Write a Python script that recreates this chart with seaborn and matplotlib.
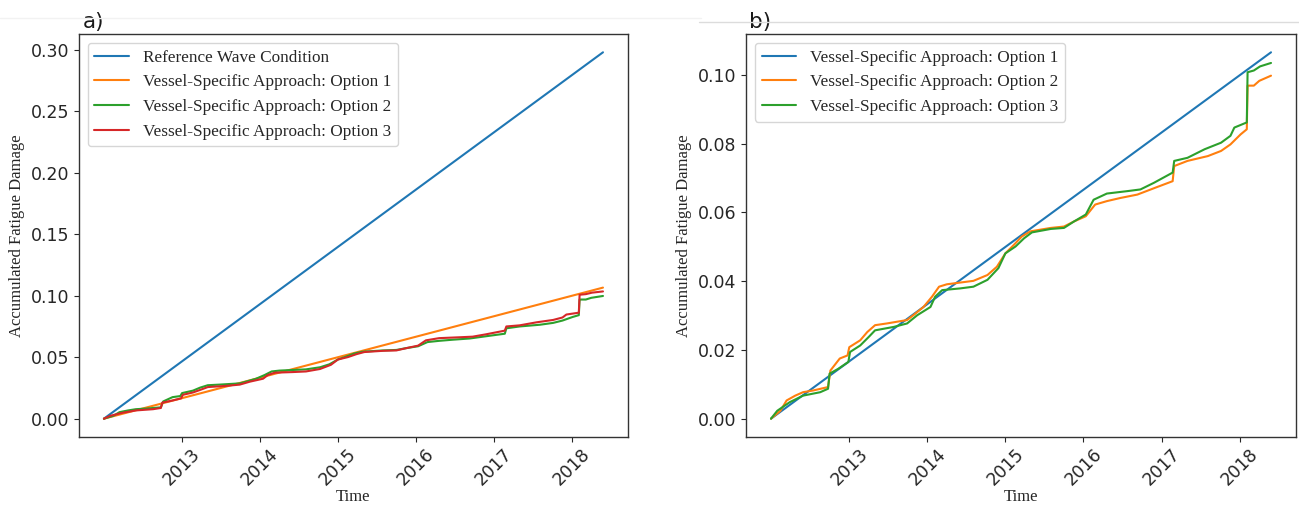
import numpy as np
import pandas as pd
import matplotlib
matplotlib.use("Agg")
import matplotlib.pyplot as plt
from matplotlib.lines import Line2D
import seaborn as sns

# ---- data -------------------------------------------------------------
start_year = 2012.00
end_year = 2018.40

reference_end = 0.298      # linear reference wave condition
option1_end = 0.1066       # linear vessel-specific option 1

option2_year = [2012.00, 2012.12, 2012.20, 2012.31, 2012.41, 2012.54, 2012.73, 2012.76,
                2012.88, 2012.98, 2013.00, 2013.14, 2013.23, 2013.33, 2013.48, 2013.74,
                2013.82, 2013.95, 2014.06, 2014.15, 2014.25, 2014.59, 2014.77, 2014.89,
                2015.00, 2015.11, 2015.21, 2015.32, 2015.58, 2015.75, 2015.88, 2016.03,
                2016.15, 2016.30, 2016.47, 2016.69, 2016.92, 2017.14, 2017.16, 2017.33,
                2017.59, 2017.76, 2017.88, 2018.01, 2018.09, 2018.10, 2018.18, 2018.25,
                2018.40]
option2_damage = [0.0, 0.0023, 0.0053, 0.0067, 0.0077, 0.0082, 0.0092, 0.0140,
                  0.0175, 0.0184, 0.0208, 0.0228, 0.0252, 0.0272, 0.0277, 0.0287,
                  0.0301, 0.0325, 0.0355, 0.0384, 0.0391, 0.0401, 0.0418, 0.0442,
                  0.0481, 0.0506, 0.0530, 0.0545, 0.0555, 0.0559, 0.0574, 0.0589,
                  0.0623, 0.0633, 0.0642, 0.0652, 0.0672, 0.0691, 0.0735, 0.0750,
                  0.0764, 0.0779, 0.0798, 0.0827, 0.0842, 0.0969, 0.0969, 0.0983,
                  0.0998]

option3_year = [2012.00, 2012.08, 2012.24, 2012.41, 2012.63, 2012.73, 2012.75, 2012.86,
                2012.99, 2013.01, 2013.14, 2013.25, 2013.33, 2013.57, 2013.74, 2013.87,
                2014.04, 2014.10, 2014.19, 2014.42, 2014.59, 2014.77, 2014.91, 2015.00,
                2015.13, 2015.24, 2015.34, 2015.58, 2015.75, 2015.88, 2016.03, 2016.13,
                2016.30, 2016.56, 2016.73, 2016.90, 2017.14, 2017.16, 2017.33, 2017.55,
                2017.76, 2017.88, 2017.93, 2018.09, 2018.10, 2018.18, 2018.26, 2018.40]
option3_damage = [0.0, 0.0023, 0.0048, 0.0067, 0.0077, 0.0087, 0.0131, 0.0145,
                  0.0165, 0.0194, 0.0213, 0.0238, 0.0257, 0.0267, 0.0277, 0.0301,
                  0.0325, 0.0355, 0.0374, 0.0379, 0.0384, 0.0404, 0.0438, 0.0481,
                  0.0501, 0.0525, 0.0542, 0.0552, 0.0555, 0.0574, 0.0594, 0.0637,
                  0.0655, 0.0662, 0.0667, 0.0686, 0.0716, 0.0750, 0.0759, 0.0784,
                  0.0803, 0.0823, 0.0847, 0.0862, 0.1008, 0.1013, 0.1025, 0.1035]

year_ticks = [2013, 2014, 2015, 2016, 2017, 2018]

labels_a = ["Reference Wave Condition",
            "Vessel-Specific Approach: Option 1",
            "Vessel-Specific Approach: Option 2",
            "Vessel-Specific Approach: Option 3"]
labels_b = ["Vessel-Specific Approach: Option 1",
            "Vessel-Specific Approach: Option 2",
            "Vessel-Specific Approach: Option 3"]

# ---- helpers ----------------------------------------------------------
def to_time(years):
    out = []
    for y in years:
        base = int(np.floor(y))
        out.append(pd.Timestamp(f"{base}-01-01") + pd.Timedelta(days=(y - base) * 365.25))
    return out


linear_years = [start_year, end_year]
series_a = [
    (labels_a[0], linear_years, [0.0, reference_end]),
    (labels_a[1], linear_years, [0.0, option1_end]),
    (labels_a[2], option2_year, option2_damage),
    (labels_a[3], option3_year, option3_damage),
]
series_b = [
    (labels_b[0], linear_years, [0.0, option1_end]),
    (labels_b[1], option2_year, option2_damage),
    (labels_b[2], option3_year, option3_damage),
]


def long_frame(series):
    rows = []
    for name, yrs, vals in series:
        for t, v in zip(to_time(yrs), vals):
            rows.append({"Time": t, "Damage": v, "Series": name})
    return pd.DataFrame(rows)


# ---- styling ----------------------------------------------------------
sns.set_style("ticks")
plt.rcParams["font.family"] = ["DejaVu Sans"]
plt.rcParams["axes.linewidth"] = 1.0

serif_legend = {"family": "Liberation Serif", "size": 12.4}
serif_label = {"family": "Liberation Serif", "size": 12}
palette = sns.color_palette("tab10")

fig = plt.figure(figsize=(12.99, 5.08), dpi=100)
ax_a = fig.add_axes([0.0608, 0.1398, 0.4226, 0.7933])
ax_b = fig.add_axes([0.5743, 0.1398, 0.4234, 0.7933])


def draw(ax, series, colors, tag):
    df = long_frame(series)
    order = [s[0] for s in series]
    sns.lineplot(data=df, x="Time", y="Damage", hue="Series", hue_order=order,
                 palette=colors, estimator=None, sort=True, linewidth=1.5,
                 legend=False, ax=ax)
    handles = [Line2D([], [], color=c, lw=1.5) for c in colors]
    ax.legend(handles, order, loc="upper left", prop=serif_legend, labelspacing=0.5,
              handlelength=2.0, borderaxespad=0.5, framealpha=0.8,
              edgecolor="#cccccc", fancybox=True)
    ax.set_xticks(to_time(year_ticks))
    ax.set_xticklabels([str(y) for y in year_ticks], rotation=45)
    ax.tick_params(axis="both", labelsize=12.5, colors="#262626")
    ax.tick_params(axis="x", pad=2)
    ax.set_xlabel("Time", fontdict=serif_label, labelpad=0)
    ax.set_ylabel("Accumulated Fatigue Damage", fontdict=serif_label)
    ax.text(0.006, 1.014, tag, transform=ax.transAxes, fontsize=15.5,
            ha="left", va="baseline", color="#1a1a1a")
    for sp in ax.spines.values():
        sp.set_color("#333333")


draw(ax_a, series_a, palette[:4], "a)")
draw(ax_b, series_b, palette[:3], "b)")

ax_a.set_yticks(np.arange(0, 0.301, 0.05))
ax_b.set_yticks(np.arange(0, 0.101, 0.02))
ax_a.yaxis.set_major_formatter(matplotlib.ticker.FormatStrFormatter("%.2f"))
ax_b.yaxis.set_major_formatter(matplotlib.ticker.FormatStrFormatter("%.2f"))

# thin separator rules along the top of the figure
fig.add_artist(Line2D([0.0, 0.54], [0.9646, 0.9646], transform=fig.transFigure,
                      color="#f2f2f2", lw=1))
fig.add_artist(Line2D([0.538, 1.0], [0.9567, 0.9567], transform=fig.transFigure,
                      color="#dcdcdc", lw=1))

fig.savefig("out.png", dpi=100)
